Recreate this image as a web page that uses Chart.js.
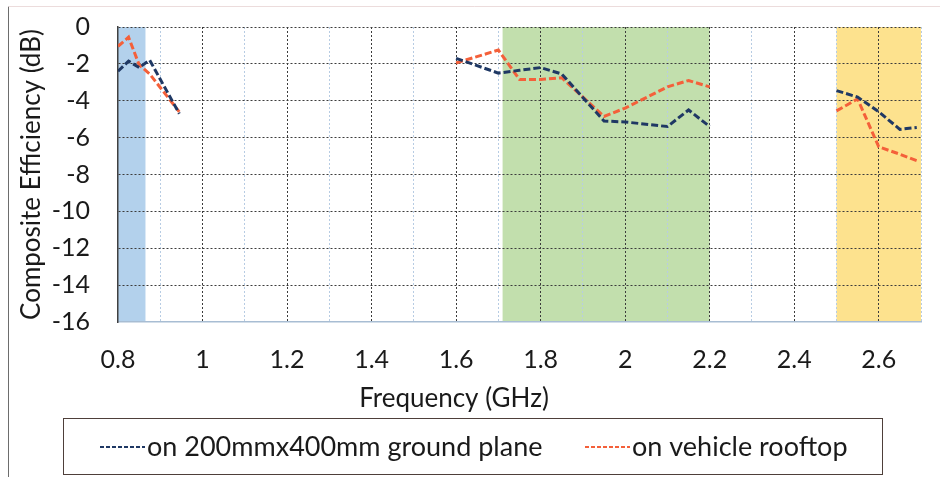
<!DOCTYPE html>
<html>
<head>
<meta charset="utf-8">
<script src="https://cdn.jsdelivr.net/npm/chart.js@4.4.0/dist/chart.umd.min.js"></script>
<style>
  html, body { margin: 0; padding: 0; background: #fff; }
</style>
</head>
<body>
<canvas id="grafica" width="945" height="477"></canvas>
<script>
// Nombres de las series
var nombres = ['on 200mmx400mm ground plane', 'on vehicle rooftop'];

// Banda baja
var frecBaja = [0.80, 0.825, 0.85, 0.875, 0.945];
var planoBaja = [-2.4, -1.85, -2.2, -1.8, -4.7];
var techoBaja = [-1.05, -0.55, -2.05, -2.55, -4.6];

// Banda media
var frecMedia = [1.6, 1.7, 1.75, 1.8, 1.85, 1.95, 2.0, 2.1, 2.15, 2.2];
var planoMedia = [-1.7, -2.5, -2.35, -2.2, -2.55, -5.1, -5.15, -5.4, -4.5, -5.4];
var techoMedia = [-1.95, -1.25, -2.85, -2.85, -2.75, -4.85, -4.4, -3.25, -2.9, -3.25];

// Banda alta
var frecAlta = [2.5, 2.55, 2.6, 2.65, 2.69];
var planoAlta = [-3.45, -3.8, -4.6, -5.55, -5.45];
var techoAlta = [-4.55, -3.9, -6.5, -6.9, -7.25];

// Zonas sombreadas (GHz)
var zonaInicio = [0.8, 1.71, 2.5];
var zonaFin = [0.865, 2.2, 2.7];

var FUENTE = 'Lato, "Open Sans", sans-serif';

// Unir los tramos con un hueco entre ellos
function puntos(tramos) {
  var res = [];
  tramos.forEach(function(t, i) {
    if (i > 0) res.push({ x: (t[0][0] + res[res.length - 1].x) / 2, y: null });
    for (var k = 0; k < t[0].length; k++) res.push({ x: t[0][k], y: t[1][k] });
  });
  return res;
}

var colorZonas = ['#b3d1ec', '#c2dfad', '#fde28e'];

var fondo = {
  id: 'fondo',
  beforeDraw: function(chart) {
    var ctx = chart.ctx, a = chart.chartArea, x = chart.scales.x;
    ctx.save();
    // marco exterior
    ctx.lineWidth = 1;
    ctx.beginPath();
    ctx.moveTo(8.5, 477);
    ctx.lineTo(8.5, 6.5);
    ctx.strokeStyle = '#6d6d6d';
    ctx.stroke();
    ctx.beginPath();
    ctx.moveTo(8.5, 6.5);
    ctx.lineTo(940, 6.5);
    ctx.strokeStyle = '#ecdcdc';
    ctx.stroke();
    for (var i = 0; i < zonaInicio.length; i++) {
      var x1 = x.getPixelForValue(zonaInicio[i]);
      var x2 = x.getPixelForValue(zonaFin[i]);
      ctx.fillStyle = colorZonas[i];
      ctx.fillRect(x1, a.top, x2 - x1, a.bottom - a.top);
    }
    ctx.restore();
  },
  afterDraw: function(chart) {
    var ctx = chart.ctx;
    ctx.save();
    // titulo del eje x
    ctx.fillStyle = '#1a1a1a';
    ctx.font = '26px ' + FUENTE;
    ctx.textAlign = 'center';
    ctx.textBaseline = 'middle';
    ctx.fillText('Frequency (GHz)', 454, 399);
    // leyenda
    ctx.strokeStyle = '#4e3f3a';
    ctx.lineWidth = 1;
    ctx.strokeRect(63.5, 418.5, 819, 56);
    ctx.font = '27px ' + FUENTE;
    var inicio = [100, 585];
    chart.data.datasets.forEach(function(ds, i) {
      ctx.beginPath();
      ctx.setLineDash([4, 2]);
      ctx.lineWidth = 2;
      ctx.strokeStyle = ds.borderColor;
      ctx.moveTo(inicio[i], 447);
      ctx.lineTo(inicio[i] + 45, 447);
      ctx.stroke();
      ctx.setLineDash([]);
      ctx.textAlign = 'left';
      ctx.fillStyle = '#1a1a1a';
      ctx.fillText(ds.label, inicio[i] + 47, 447);
    });
    ctx.restore();
  }
};

var ctx = document.getElementById('grafica').getContext('2d');
new Chart(ctx, {
  type: 'line',
  data: {
    datasets: [{
      label: nombres[0],
      data: puntos([[frecBaja, planoBaja], [frecMedia, planoMedia], [frecAlta, planoAlta]]),
      borderColor: '#1f3864',
      borderWidth: 3,
      borderDash: [7, 3],
      pointRadius: 0,
      tension: 0,
      spanGaps: false
    }, {
      label: nombres[1],
      data: puntos([[frecBaja, techoBaja], [frecMedia, techoMedia], [frecAlta, techoAlta]]),
      borderColor: '#f4603a',
      borderWidth: 3,
      borderDash: [7, 3],
      pointRadius: 0,
      tension: 0,
      spanGaps: false
    }]
  },
  options: {
    responsive: false,
    animation: false,
    layout: { padding: { left: 8, top: 27, right: 24, bottom: 59 } },
    plugins: {
      legend: { display: false },
      tooltip: { enabled: false }
    },
    scales: {
      x: {
        type: 'linear',
        min: 0.8,
        max: 2.7,
        afterFit: function(s) { s.height = 96; },
        ticks: {
          stepSize: 0.1,
          autoSkip: false,
          maxRotation: 0,
          padding: 23,
          color: '#1a1a1a',
          font: { family: FUENTE, size: 25 },
          callback: function(v) {
            var d = Math.round(v * 10);
            return d % 2 === 0 ? String(d / 10) : '';
          }
        },
        grid: {
          drawTicks: false,
          lineWidth: 1,
          color: function(c) {
            var d = Math.round(c.tick.value * 10);
            if (d === 8) return 'rgba(0,0,0,0)';
            return d % 2 === 0 ? '#3c3c3c' : '#b7cce3';
          }
        },
        border: { display: true, color: '#a8bdd3', width: 1.5, dash: [2, 2] }
      },
      y: {
        min: -16,
        max: 0,
        afterFit: function(s) { s.width = 110; },
        ticks: {
          stepSize: 2,
          padding: 2,
          color: '#1a1a1a',
          font: { family: FUENTE, size: 25 }
        },
        title: {
          display: true,
          text: 'Composite Efficiency (dB)',
          color: '#1a1a1a',
          font: { family: FUENTE, size: 26 },
          padding: { top: 8, bottom: 0 }
        },
        grid: {
          drawTicks: true,
          tickLength: 26,
          tickColor: 'rgba(0,0,0,0)',
          lineWidth: 1,
          color: function(c) {
            return c.tick.value === -16 ? 'rgba(0,0,0,0)' : '#3c3c3c';
          }
        },
        border: { display: true, color: '#404040', width: 1.5, dash: [2, 2] }
      }
    }
  },
  plugins: [fondo]
});
</script>
</body>
</html>
